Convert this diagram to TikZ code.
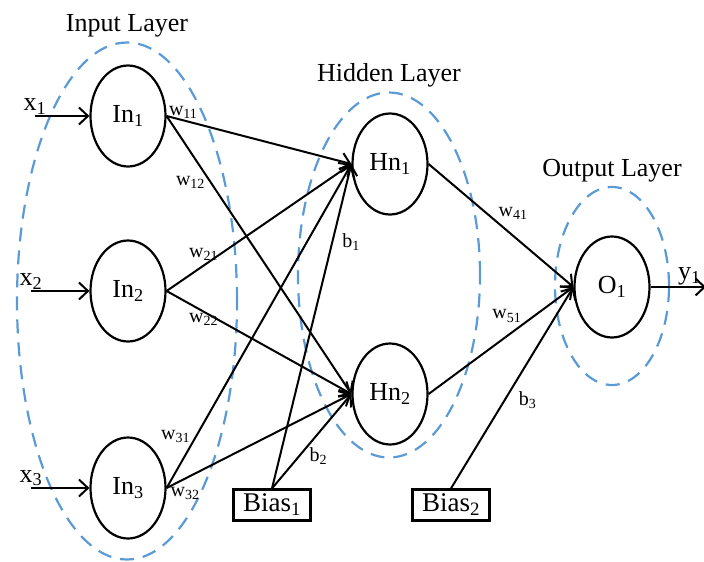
\documentclass[tikz,border=0pt]{standalone}
\usepackage{fontspec}
\setmainfont{Liberation Serif}
\usetikzlibrary{arrows.meta,positioning,shapes.geometric}
\definecolor{layerBlue}{HTML}{5B9BD5}

\begin{document}
\begin{tikzpicture}[x=1pt,y=-1pt,
  neuron/.style={draw,ellipse,line width=2.2pt,minimum width=75pt,minimum height=101pt,inner sep=0pt,font=\fontsize{26}{30}\selectfont},
  layerring/.style={draw=layerBlue,ellipse,dash pattern=on 14pt off 9pt,line width=2.2pt,inner sep=0pt},
  biasbox/.style={draw,line width=2.2pt,minimum width=77pt,minimum height=31pt,inner sep=0pt,font=\fontsize{27}{30}\selectfont},
  layertitle/.style={font=\fontsize{26}{30}\selectfont,inner sep=2pt},
  wire/.style={line width=2pt,-{Straight Barb[length=9pt,width=17pt]}},
  wlab/.style={font=\fontsize{20}{24}\selectfont,inner sep=1pt},
  iolab/.style={font=\fontsize{26}{30}\selectfont,inner sep=1pt}]
  \useasboundingbox (0,0) rectangle (704,562);

  % layer outlines and titles
  \node[layerring,minimum width=220pt,minimum height=517pt] (inL) at (127,301) {};
  \node[layerring,minimum width=182pt,minimum height=365pt] (hidL) at (389,275) {};
  \node[layerring,minimum width=114pt,minimum height=198pt] (outL) at (612,286) {};
  \node[layertitle,above=2pt of inL] (inT) {Input Layer};
  \node[layertitle,above=2pt of hidL] (hidT) {Hidden Layer};
  \node[layertitle,above=2pt of outL] (outT) {Output Layer};

  % neurons
  \node[neuron] (in1) at (128,116) {In\textsubscript{1}};
  \node[neuron] (in2) at (128,291) {In\textsubscript{2}};
  \node[neuron] (in3) at (128,488) {In\textsubscript{3}};
  \node[neuron] (hn1) at (390,164) {Hn\textsubscript{1}};
  \node[neuron] (hn2) at (390,394) {Hn\textsubscript{2}};
  \node[neuron] (o1) at (612,287) {O\textsubscript{1}};

  % bias units
  \node[biasbox] (bias1) at (272,505) {Bias\textsubscript{1}};
  \node[biasbox] (bias2) at (451,505) {Bias\textsubscript{2}};

  % inputs and output
  \coordinate (x1) at (35,116);
  \coordinate (x2) at (31,291);
  \coordinate (x3) at (31,488);
  \coordinate (y1) at (706,287);
  \draw[wire] (x1) -- node[iolab,pos=0,above] {x\textsubscript{1}} (in1);
  \draw[wire] (x2) -- node[iolab,pos=0,above] {x\textsubscript{2}} (in2);
  \draw[wire] (x3) -- node[iolab,pos=0,above] {x\textsubscript{3}} (in3);
  \draw[wire] (o1) -- node[iolab,pos=0.7,above] {y\textsubscript{1}} (y1);

  % weights into the hidden layer
  \draw[wire] (in1.east) -- node[wlab,pos=0.09,above] {w\textsubscript{11}} (hn1.west);
  \draw[wire] (in1.east) -- node[wlab,pos=0.24,left=4pt] {w\textsubscript{12}} (hn2.west);
  \draw[wire] (in2.east) -- node[wlab,pos=0.2,above=3pt] {w\textsubscript{21}} (hn1.west);
  \draw[wire] (in2.east) -- node[wlab,pos=0.2,below] {w\textsubscript{22}} (hn2.west);
  \draw[wire] (in3.east) -- node[wlab,pos=0.16,left=4pt] {w\textsubscript{31}} (hn1.west);
  \draw[wire] (in3.east) -- node[wlab,pos=0.1,below=7pt] {w\textsubscript{32}} (hn2.west);
  \draw[wire] (bias1.north) -- node[wlab,pos=0.76,right=8pt] {b\textsubscript{1}} (hn1.west);
  \draw[wire] (bias1.north) -- node[wlab,pos=0.45,below right] {b\textsubscript{2}} (hn2.west);

  % weights into the output layer
  \draw[wire] (hn1.east) -- node[wlab,pos=0.47,above right] {w\textsubscript{41}} (o1.west);
  \draw[wire] (hn2.east) -- node[wlab,pos=0.54,above=12pt] {w\textsubscript{51}} (o1.west);
  \draw[wire] (bias2.north) -- node[wlab,pos=0.44,right=12pt] {b\textsubscript{3}} (o1.west);
\end{tikzpicture}
\end{document}
